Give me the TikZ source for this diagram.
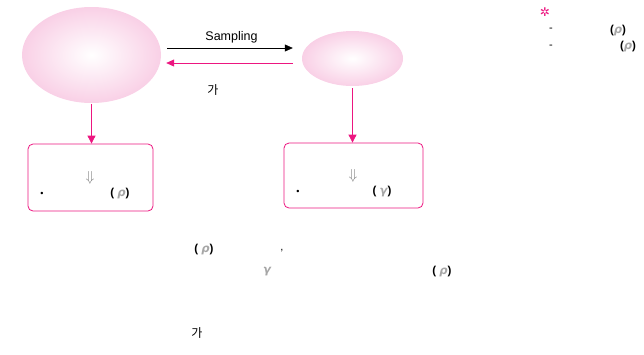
\documentclass[tikz,border=0pt]{standalone}
\usepackage{fontspec}
\setmainfont{Liberation Sans}
\newfontfamily\kr{Noto Sans CJK KR}
\newfontfamily\grk{DejaVu Sans}
\usepackage{xcolor}
\usepackage{tikz}
\usetikzlibrary{arrows.meta,positioning,shapes.geometric}
\usepackage{amsmath,amssymb}

\definecolor{hotpink}{RGB}{236,22,128}
\definecolor{blobpink}{RGB}{249,208,230}
\newcommand{\greek}[1]{{\color{gray!70}\grk\bfseries\itshape #1}}

\begin{document}
\begin{tikzpicture}[x=1pt, y=-1pt,
  blob/.style={ellipse, shading=radial, inner color=white, outer color=blobpink, inner sep=0pt},
  result/.style={draw=hotpink, rounded corners=5pt, line width=0.8pt},
  fwd/.style={draw, -{Triangle[length=8pt,width=7pt]}, line width=0.6pt},
  back/.style={draw=hotpink, -{Triangle[length=8pt,width=7pt]}, line width=0.8pt, hotpink},
  down/.style={draw=hotpink, -{Triangle[length=8pt,width=8pt]}, line width=0.8pt, hotpink},
  txt/.style={font=\fontsize{11}{13}\selectfont, inner sep=0pt},
  paren/.style={txt, font=\fontsize{11.5}{13}\selectfont\bfseries}
]
  \useasboundingbox (0,0) rectangle (644,354);
  \node[blob, minimum width=139pt, minimum height=96pt] (pop) at (91.5,55) {};
  \node[blob, minimum width=101pt, minimum height=55pt] (sample) at (352.5,58.5) {};
  \node[result, minimum width=125pt, minimum height=67pt] (popbox) at (90.5,177.5) {};
  \node[result, minimum width=139pt, minimum height=65pt] (samplebox) at (353.5,175.5) {};
  \draw[fwd, shorten <=6pt, shorten >=9pt] (pop.east |- 0,48) -- node[txt, above=5pt]{\fontsize{12.5}{14}\selectfont Sampling} (sample.west |- 0,48) ;
  \draw[back, shorten <=9pt, shorten >=5pt] (sample.west |- 0,63) -- (pop.east |- 0,63);
  \draw[down, shorten <=1pt] (pop.south) -- (pop.south |- popbox.north);
  \draw[down, shorten <=2pt] (sample.south) -- (sample.south |- samplebox.north);
  \node[txt, font=\kr\fontsize{12}{14}\selectfont] (ga1) at (213,90) {가};
  % inside the boxes
  \node[txt] (arr1) at (90,178) {\color{gray}\Large$\Downarrow$};
  \node[txt] (dot1) at (42,194) {\small\textbullet};
  \node[paren] (par1) at (120,194) {( \greek{ρ})};
  \node[txt] (arr2) at (353,176) {\color{gray}\Large$\Downarrow$};
  \node[txt] (dot2) at (298,192) {\small\textbullet};
  \node[paren] (par2) at (382,192) {( \greek{γ})};
  % lower text
  \node[paren] (par3) at (204,250) {( \greek{ρ})};
  \node[txt] (comma) at (282,251) {,};
  \node[paren] (gam) at (267,272) {\greek{γ}};
  \node[paren] (par4) at (442,272) {( \greek{ρ})};
  \node[txt, font=\kr\fontsize{12}{14}\selectfont] (ga2) at (197,333) {가};
  % note at top right
  \node[txt, hotpink, font=\grk\fontsize{12}{14}\selectfont] (star) at (545,12) {✲};
  \node[txt] (dash1) at (551,30) {-};
  \node[paren] (par5) at (618,31) {(\greek{ρ})};
  \node[txt] (dash2) at (551,47) {-};
  \node[paren] (par6) at (628,47) {(\greek{ρ})};
\end{tikzpicture}
\end{document}
